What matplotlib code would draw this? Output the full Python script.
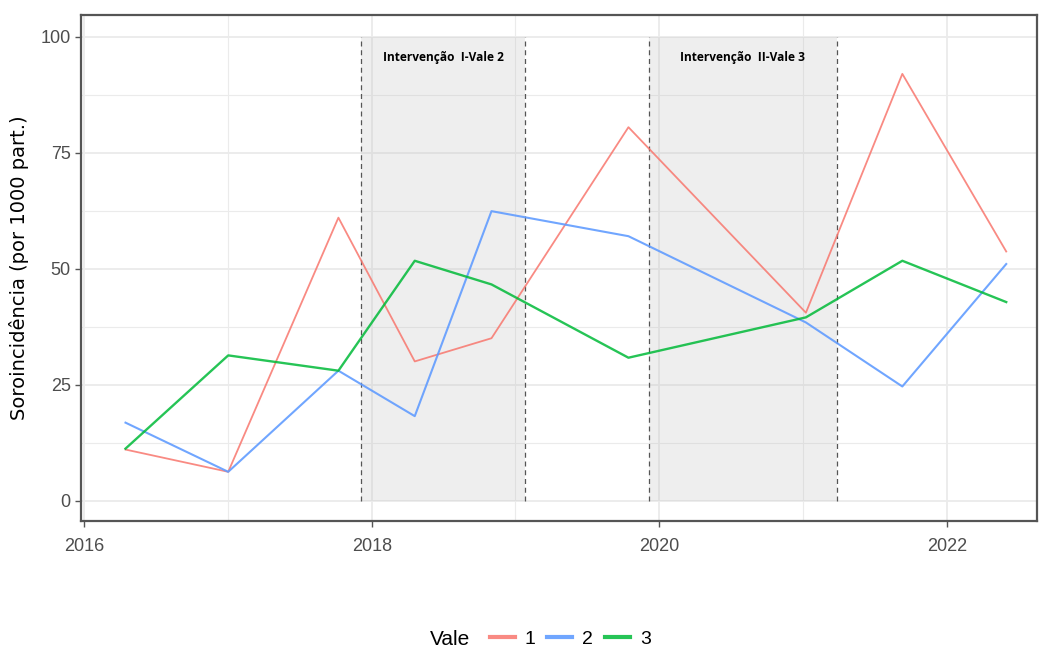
import numpy as np
import pandas as pd
import matplotlib
matplotlib.use("Agg")
import matplotlib.pyplot as plt
import matplotlib.dates as mdates
from matplotlib.offsetbox import HPacker

plt.rcParams['font.family'] = ['Liberation Sans Narrow', 'Liberation Sans', 'DejaVu Sans']

# Soroincidência por vale (por 1000 participantes)
datas = pd.to_datetime(['2016-04-15', '2017-01-01', '2017-10-08', '2018-04-20',
                        '2018-11-01', '2019-10-15', '2021-01-08', '2021-09-10',
                        '2022-06-01'])
vale_1 = [11.0, 6.2, 61.0, 30.0, 35.0, 80.5, 40.5, 92.0, 53.7]
vale_2 = [16.8, 6.2, 28.0, 18.2, 62.4, 57.0, 38.4, 24.6, 51.0]
vale_3 = [11.2, 31.3, 28.0, 51.7, 46.6, 30.8, 39.5, 51.7, 42.8]

intervencoes = ['Intervenção  I-Vale 2', 'Intervenção  II-Vale 3']
inicio = pd.to_datetime(['2017-12-05', '2019-12-05'])
fim = pd.to_datetime(['2019-01-25', '2021-03-28'])

cores = {'1': '#F8766D', '2': '#619CFF', '3': '#00BA38'}

fig = plt.figure(figsize=(10.39, 6.5), dpi=100)
ax = fig.add_axes([0.078, 0.1985, 0.920, 0.7785])

# grelha estilo ggplot
for y in np.arange(0, 101, 12.5):
    ax.axhline(y, color='#EBEBEB', lw=1.3 if y % 25 == 0 else 0.8, zorder=0)
for ano in range(2016, 2023):
    ax.axvline(pd.Timestamp(f'{ano}-01-01'), color='#EBEBEB',
               lw=1.3 if ano % 2 == 0 else 0.8, zorder=0)

# períodos de intervenção
for txt, a, b in zip(intervencoes, inicio, fim):
    ax.fill_between([a, b], 0, 100, color='#BEBEBE', alpha=0.25, lw=0, zorder=1)
    ax.vlines([a, b], 0, 100, colors='#555555', linestyles=(0, (4, 3)), lw=0.9, zorder=2)
    meio = a + (b - a) / 2
    ax.text(meio, 95.5, txt, ha='center', va='center', fontsize=8.6,
            fontweight='bold', family=['Open Sans', 'DejaVu Sans'], color='black', zorder=3)

ax.plot(datas, vale_1, color=cores['1'], lw=1.3, alpha=0.85, label='1', zorder=4)
ax.plot(datas, vale_2, color=cores['2'], lw=1.5, alpha=0.9, label='2', zorder=4)
ax.plot(datas, vale_3, color=cores['3'], lw=1.7, alpha=0.85, label='3', zorder=4)

ax.set_ylim(-4.4, 104.7)
ax.set_yticks([0, 25, 50, 75, 100])
ax.set_xlim(pd.Timestamp('2015-12-24'), pd.Timestamp('2022-08-18'))
ax.xaxis.set_major_locator(mdates.YearLocator(2))
ax.xaxis.set_major_formatter(mdates.DateFormatter('%Y'))

for s in ax.spines.values():
    s.set_color('#555555')
    s.set_linewidth(1.6)
ax.tick_params(colors='#555555', labelcolor='#4D4D4D', labelsize=13, length=4, width=1)
ax.tick_params(axis='x', pad=8)

ax.set_ylabel('Soroincidência (por 1000 part.)', fontsize=14,
              family=['DejaVu Sans'], color='black', labelpad=8)

leg = fig.legend(loc='lower center', bbox_to_anchor=(0.52, -0.025), ncol=3, frameon=False,
                 title='Vale', fontsize=14, title_fontsize=15, handlelength=1.3,
                 handletextpad=0.5, columnspacing=0.6)
for h in leg.get_lines():
    h.set_linewidth(3)
# título ao lado das entradas
box = leg._legend_box
box.__class__ = HPacker
box.align = 'center'
box.sep = 14

fig.savefig('out.png', dpi=100)
